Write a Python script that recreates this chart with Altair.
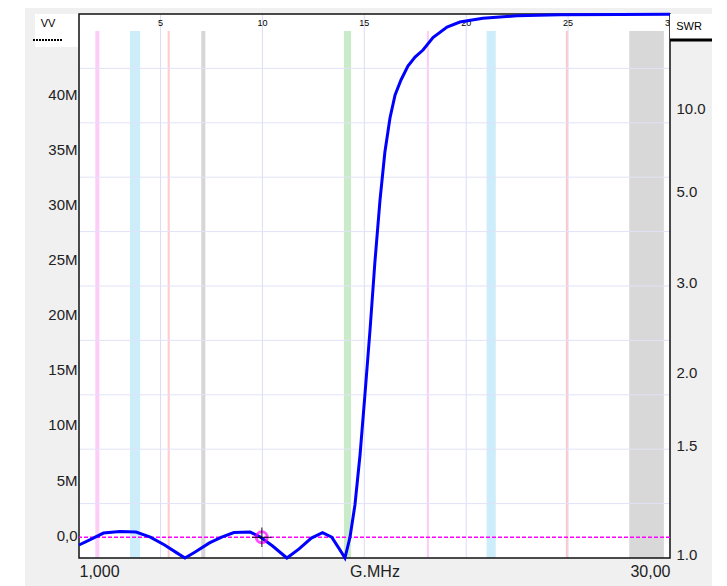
import altair as alt
import pandas as pd

# ---- data ----
freq = [1.0, 1.5, 2.2, 3.0, 3.8, 4.5, 5.2, 5.8, 6.2, 6.7, 7.4, 8.0, 8.6, 9.4, 9.9, 10.5,
        11.2, 11.8, 12.4, 12.95, 13.4, 13.75, 14.05, 14.30, 14.54, 14.79, 15.03, 15.28,
        15.52, 15.77, 16.01, 16.26, 16.51, 16.80, 17.14, 17.49, 17.88, 18.37, 19.06,
        19.69, 20.82, 22.49, 24.60, 27.55, 30.0]
swr = [1.049, 1.068, 1.096, 1.102, 1.100, 1.080, 1.049, 1.019, 1.000, 1.022, 1.057, 1.080,
       1.098, 1.100, 1.080, 1.045, 1.000, 1.034, 1.076, 1.098, 1.080, 1.037, 1.000, 1.080,
       1.216, 1.467, 1.856, 2.443, 3.387, 4.849, 6.884, 9.46, 12.43, 15.49, 19.92, 24.3,
       29.2, 45.3, 82.7, 135, 252, 640, 1360, 2720, 5440]

band_start = [1.8, 3.5, 5.35, 7.0, 14.0, 18.068, 21.0, 24.89, 28.0]
band_end = [2.0, 4.0, 5.45, 7.2, 14.35, 18.168, 21.45, 24.99, 29.7]
band_color = ["#fccdf6", "#cdedfa", "#ffcaca", "#d6d6d6", "#c9ebc9", "#fccdf6",
              "#cdedfa", "#ffc6c6", "#d8d8d8"]

top_ticks = [5, 10, 15, 20, 25, 30]
x_grid = [5, 10, 15, 20, 25]
y_grid = [0.1, 0.2, 0.3, 0.4, 0.5, 0.6, 0.7, 0.8, 0.9]
swr_ticks = [1.0, 1.5, 2.0, 3.0, 5.0, 10.0]
vv_ticks = [0, 5, 10, 15, 20, 25, 30, 35, 40]
bottom_ticks = [1, 30]

marker_f = [9.97]
marker_swr = [1.079]

W, H = 591, 544
FONT = "Liberation Sans"

curve_df = pd.DataFrame({"f": freq, "swr": swr})
band_df = pd.DataFrame({"start": band_start, "end": band_end, "color": band_color})
top_df = pd.DataFrame({"f": top_ticks, "label": [str(t) for t in top_ticks]})
xg_df = pd.DataFrame({"f": x_grid})
yg_df = pd.DataFrame({"g": y_grid})
vv_df = pd.DataFrame({"vv": vv_ticks})
mk_df = pd.DataFrame({"f": marker_f, "swr": marker_swr})
one = pd.DataFrame({"a": [0]})

gamma_ticks = [(s - 1) / (s + 1) for s in swr_ticks]
GEXPR = "(datum.swr-1)/(datum.swr+1)"

xs = alt.Scale(domain=[1, 30], nice=False, zero=False)
gs = alt.Scale(domain=[0, 1], nice=False, zero=False)

def Xf(field="f"):
    return alt.X(f"{field}:Q", scale=xs, axis=None)

def Yg(field="g"):
    return alt.Y(f"{field}:Q", scale=gs, axis=None)

# background panels (decoration)
bg = alt.Chart(one).mark_rect(color="#f0f0f0").encode(
    x=alt.value(-54), x2=alt.value(633), y=alt.value(-6), y2=alt.value(580))
plot_bg = alt.Chart(one).mark_rect(color="#ffffff").encode(
    x=alt.value(0), x2=alt.value(W), y=alt.value(0), y2=alt.value(H))

bands = alt.Chart(band_df).mark_rect().encode(
    x=Xf("start"), x2="end", y=alt.value(17), y2=alt.value(H),
    color=alt.Color("color:N", scale=None))

xgrid = alt.Chart(xg_df).mark_rule(color="#dcdcf6", strokeWidth=1).encode(x=Xf())
ygrid = alt.Chart(yg_df).mark_rule(color="#e2e2f8", strokeWidth=1).encode(y=Yg())

top_lbl = alt.Chart(top_df).mark_text(font=FONT, fontSize=9, color="#000",
                                      baseline="middle", align="center").encode(
    x=Xf(), y=alt.value(9), text="label:N")

# left VV axis (invisible points carrying the scale)
vv_axis = alt.Chart(vv_df).mark_point(opacity=0).encode(
    y=alt.Y("vv:Q", scale=alt.Scale(domain=[-2.09, 47.36], nice=False, zero=False),
            axis=alt.Axis(orient="left", values=vv_ticks, title=None, grid=False,
                          domain=False, ticks=False, tickSize=0, labelPadding=2,
                          labelFont=FONT, labelFontSize=15, labelColor="#222",
                          labelBaseline="middle", zindex=1,
                          labelExpr="datum.value == 0 ? '0,0' : datum.value + 'M'")))

border = alt.Chart(one).mark_rect(filled=False, stroke="#111", strokeWidth=1.5).encode(
    x=alt.value(0), x2=alt.value(W), y=alt.value(0), y2=alt.value(H))

dash = alt.Chart(mk_df).transform_calculate(g=GEXPR).mark_rule(
    color="#ff00ff", strokeWidth=1.5, strokeDash=[4, 2]).encode(y=Yg())

x_axis = alt.Axis(orient="bottom", values=bottom_ticks, title="G.MHz",
                  grid=False, domain=False, ticks=False, tickSize=0,
                  labelPadding=13, labelBaseline="middle", labelFlush=True,
                  labelFont=FONT, labelFontSize=16, labelColor="#222",
                  labelExpr="datum.value == 1 ? '1,000' : '30,00'",
                  titleFont=FONT, titleFontSize=16, titleFontWeight="normal",
                  titleColor="#222", titleY=13, titleBaseline="middle",
                  zindex=1)

curve = alt.Chart(curve_df).transform_calculate(g=GEXPR).mark_line(
    color="#0000ff", strokeWidth=3).encode(
    x=alt.X("f:Q", scale=xs, axis=x_axis),
    y=alt.Y("g:Q", scale=gs,
            axis=alt.Axis(orient="right", values=gamma_ticks, title=None, grid=False,
                          domain=False, ticks=False, tickSize=0, labelPadding=6,
                          labelFont=FONT, labelFontSize=15, labelColor="#222",
                          labelBaseline="middle", labelOffset=-4, zindex=1,
                          labelExpr="format((1+datum.value)/(1-datum.value), '.1f')")))

mk_circle = alt.Chart(mk_df).transform_calculate(g=GEXPR).mark_point(
    shape="circle", filled=False, stroke="#ff00ff", strokeWidth=3, size=120).encode(
    x=Xf(), y=Yg())
mk_cross = alt.Chart(mk_df).transform_calculate(g=GEXPR).mark_point(
    shape="M-1,0H1M0,-1V1", filled=False, stroke="#000", strokeWidth=1.3, size=380).encode(
    x=Xf(), y=Yg())

vv_box = alt.Chart(one).mark_rect(color="#ffffff").encode(
    x=alt.value(-44), x2=alt.value(-1), y=alt.value(0), y2=alt.value(33))
vv_text = alt.Chart(one).mark_text(text="VV", font=FONT, fontSize=11, color="#000",
                                   align="center", baseline="middle").encode(
    x=alt.value(-31), y=alt.value(10))
vv_line = alt.Chart(one).mark_rule(color="#000", strokeWidth=2, strokeDash=[2, 1]).encode(
    x=alt.value(-46), x2=alt.value(-17), y=alt.value(26))

swr_box = alt.Chart(one).mark_rect(color="#ffffff").encode(
    x=alt.value(W), x2=alt.value(W + 42), y=alt.value(0), y2=alt.value(26))
swr_text = alt.Chart(one).mark_text(text="SWR", font=FONT, fontSize=11, color="#000",
                                    align="center", baseline="middle").encode(
    x=alt.value(W + 19), y=alt.value(13))
swr_line = alt.Chart(one).mark_rule(color="#000", strokeWidth=3).encode(
    x=alt.value(W), x2=alt.value(W + 42), y=alt.value(26))

chart = alt.layer(
    bg, plot_bg, bands, xgrid, ygrid, top_lbl, vv_axis, border, dash, curve,
    mk_circle, mk_cross, vv_box, vv_text, vv_line, swr_box, swr_text, swr_line
).resolve_scale(y="independent").resolve_axis(x="independent").properties(
    width=W, height=H,
    autosize=alt.AutoSizeParams(type="none"),
    padding={"left": 71, "top": 6, "right": 43, "bottom": 28},
    background="#ffffff",
).configure_view(stroke=None)

chart.save("out.html", embed_options={"renderer": "svg", "actions": False})
